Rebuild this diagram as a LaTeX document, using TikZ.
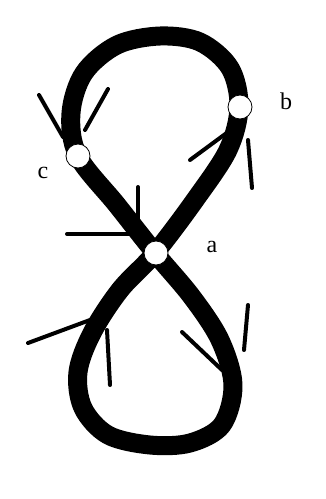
\documentclass[tikz,border=0pt]{standalone}
\usepackage{fontspec}
\setmainfont{Liberation Serif}
\begin{document}
\begin{tikzpicture}[x=1pt,y=-1pt,
  band/.style={line width=19pt,line join=round},
  barb/.style={line width=4pt,line cap=round},
  dot/.style={circle,draw=black,line width=0.8pt,fill=white,minimum size=24pt,inner sep=0pt},
  lab/.style={font=\fontsize{24}{24}\selectfont,inner sep=0pt}]
\fill[white] (0,0) rectangle (325,499);
\useasboundingbox (0,0) rectangle (325,499);
% figure-eight band
\draw[band] plot[smooth cycle,tension=0.55] coordinates {
  (78,156) (117,205) (155,253) (192,297) (220,340) (233,385) (222,425) (190,443)
  (150,445) (108,435) (83,408) (78,372) (92,333) (120,290) (155,253) (195,200)
  (228,150) (239,107) (230,68) (200,42) (160,36) (117,45) (84,73) (71,113)};
% arrow barbs
\coordinate (c1) at (39,95);   \coordinate (c1e) at (63,137);
\coordinate (c2) at (108,89);  \coordinate (c2e) at (85,130);
\coordinate (b1) at (190,160); \coordinate (b1e) at (228,132);
\coordinate (b2) at (252,188); \coordinate (b2e) at (248,140);
\coordinate (a1) at (138,187); \coordinate (a1e) at (138,236);
\coordinate (a2) at (67,234);  \coordinate (a2e) at (136,234);
\coordinate (l1) at (28,343);  \coordinate (l1e) at (90,320);
\coordinate (l2) at (110,385); \coordinate (l2e) at (107,330);
\coordinate (r1) at (182,332); \coordinate (r1e) at (222,370);
\coordinate (r2) at (248,305); \coordinate (r2e) at (244,350);
\foreach \s in {c1,c2,b1,b2,a1,a2,l1,l2,r1,r2} \draw[barb] (\s) -- (\s e);
% points
\node[dot] (a) at (156,253) {};
\node[dot] (b) at (240,107) {};
\node[dot] (c) at (78,156) {};
\node[lab] (la) at (212,247) {a};
\node[lab] (lb) at (286,101) {b};
\node[lab] (lc) at (43,173) {c};
\end{tikzpicture}
\end{document}
